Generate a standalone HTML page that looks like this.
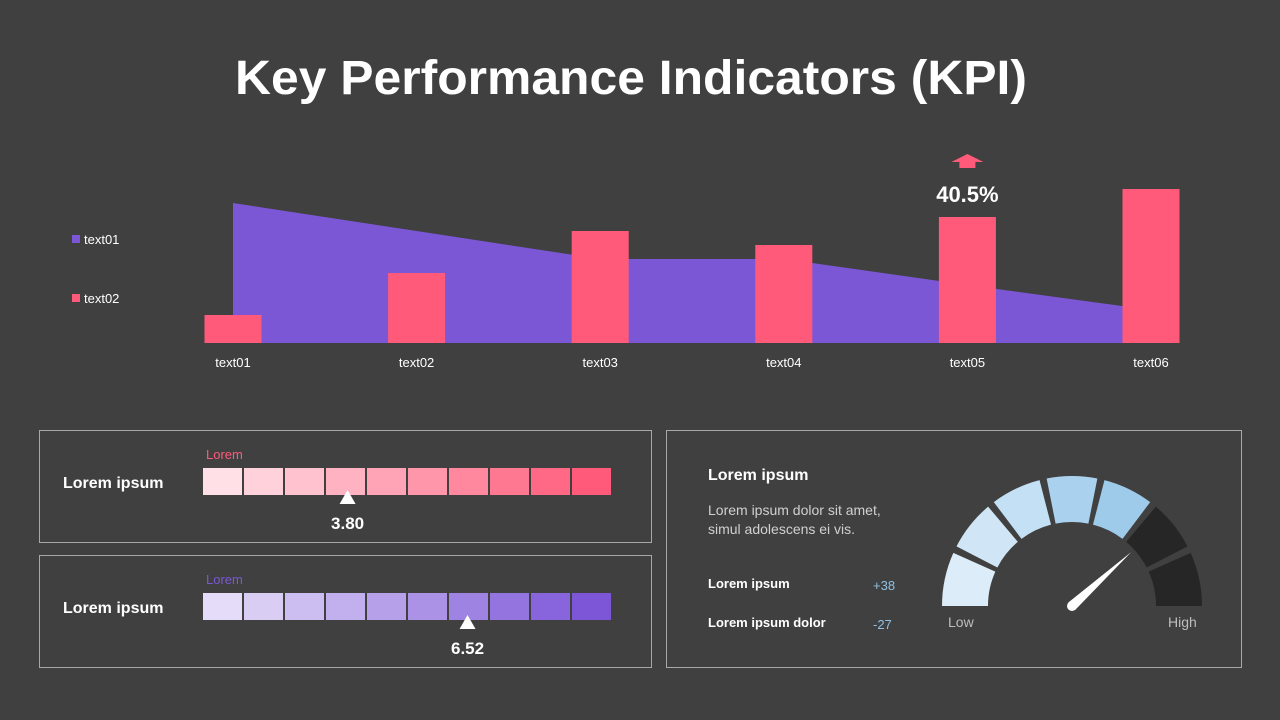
<!DOCTYPE html>
<html><head><meta charset="utf-8">
<style>
body{margin:0;width:1280px;height:720px;background:#404040;overflow:hidden;font-family:"Liberation Sans",sans-serif;}
svg{position:absolute;left:0;top:0}
</style></head>
<body>
<svg width="1280" height="720" id="s">
<text x="631" y="94" text-anchor="middle" font-size="48" font-weight="bold" fill="#fff" textLength="792" lengthAdjust="spacingAndGlyphs">Key Performance Indicators (KPI)</text>
<g id="chart"></g>
<g>
<rect x="72" y="235" width="8" height="8" fill="#7b57d6"/>
<text x="84" y="244" font-size="13" fill="#fff">text01</text>
<rect x="72" y="294" width="8" height="8" fill="#ff5a7a"/>
<text x="84" y="303" font-size="13" fill="#fff">text02</text>
</g>
<rect x="39.5" y="430.5" width="612" height="112" fill="none" stroke="#a8a8a8"/>
<rect x="39.5" y="555.5" width="612" height="112" fill="none" stroke="#a8a8a8"/>
<rect x="666.5" y="430.5" width="575" height="237" fill="none" stroke="#a8a8a8"/>
<text x="63" y="488" font-size="16" font-weight="bold" fill="#fff">Lorem ipsum</text>
<text x="206" y="459" font-size="13" fill="#ff5a7a">Lorem</text>
<text x="63" y="613" font-size="16" font-weight="bold" fill="#fff">Lorem ipsum</text>
<text x="206" y="584" font-size="13" fill="#7b57d6">Lorem</text>
<g id="scales"></g>
<text x="708" y="480" font-size="16" font-weight="bold" fill="#fff">Lorem ipsum</text>
<text x="708" y="515" font-size="14" fill="#d0d0d0">Lorem ipsum dolor sit amet,</text>
<text x="708" y="534" font-size="14" fill="#d0d0d0">simul adolescens ei vis.</text>
<text x="708" y="588" font-size="13" font-weight="bold" fill="#fff">Lorem ipsum</text>
<text x="873" y="590" font-size="13" fill="#8fc0e4">+38</text>
<text x="708" y="627" font-size="13" font-weight="bold" fill="#fff">Lorem ipsum dolor</text>
<text x="873" y="629" font-size="13" fill="#8fc0e4">-27</text>
<g id="gauge"></g>
<text x="948" y="627" font-size="14" fill="#bdbdbd">Low</text>
<text x="1168" y="627" font-size="14" fill="#bdbdbd">High</text>
</svg>
<script>
const categories=["text01","text02","text03","text04","text05","text06"];
const areaValues=[140,112,84,84,58,33];
const barValues=[28,70,112,98,126,154];
const highlightIndex=4;
const highlightLabel="40.5%";
const scaleValues=[3.80,6.52];
const gaugeValue=0.765;

const NS="http://www.w3.org/2000/svg";
function mk(tag,attrs,parent){const e=document.createElementNS(NS,tag);for(const k in attrs)e.setAttribute(k,attrs[k]);parent.appendChild(e);return e;}
const chart=document.getElementById('chart');
const x0=233,step=183.6,base=343;
const xs=i=>x0+i*step;
const ys=v=>base-v*1.0;
let d=`M${xs(0)},${base}`;
areaValues.forEach((v,i)=>{d+=` L${xs(i)},${ys(v)}`;});
d+=` L${xs(areaValues.length-1)},${base}Z`;
const area=mk('path',{d:d,fill:'#7b57d6'},chart);


barValues.forEach((v,i)=>{
 const r=mk('rect',{x:xs(i)-28.5,y:ys(v),width:57,height:base-ys(v),fill:'#ff5a7a'},chart);
 
 
 const t=mk('text',{x:xs(i),y:367,'text-anchor':'middle','font-size':13,fill:'#fff'},chart);
 t.textContent=categories[i];
 
 
});
{const hx=xs(highlightIndex),hy=ys(barValues[highlightIndex]);
 const t=mk('text',{x:hx,y:hy-15,'text-anchor':'middle','font-size':22,'font-weight':'bold',fill:'#fff'},chart);
 t.textContent=highlightLabel;
 
 
 const a=mk('path',{d:`M${hx-16},${hy-55} L${hx},${hy-63} L${hx+16},${hy-55} L${hx+8},${hy-55} L${hx+8},${hy-49} L${hx-8},${hy-49} L${hx-8},${hy-55}Z`,fill:'#ff5a7a'},chart);
 
 
}
const sc=document.getElementById('scales');
function lerp(a,b,t){return a.map((v,i)=>Math.round(v+(b[i]-v)*t));}
const scaleCols=[[[255,224,230],[255,90,122]],[[228,220,248],[125,86,216]]];
const scaleY=[468,593];
scaleValues.forEach((val,s)=>{
 for(let i=0;i<10;i++){
  const c=lerp(scaleCols[s][0],scaleCols[s][1],i/9);
  const r=mk('rect',{x:203+i*41,y:scaleY[s],width:39,height:27,fill:`rgb(${c})`},sc);
  
  
 }
 const mx=180+val*44.1;
 const tri=mk('path',{d:`M${mx-8},${scaleY[s]+36} L${mx},${scaleY[s]+22} L${mx+8},${scaleY[s]+36}Z`,fill:'#fff'},sc);
 
 
 const t=mk('text',{x:mx,y:scaleY[s]+61,'text-anchor':'middle','font-size':17,'font-weight':'bold',fill:'#fff'},sc);
 t.textContent=val.toFixed(2);
 
 
});
const g=document.getElementById('gauge');
const cx=1072,cy=606,Ro=130,Ri=84;
const segCols=[[220,236,248],[208,230,246],[196,224,244],[170,210,238],[158,203,234],[38,38,38],[38,38,38]];
function pt(r,a){return [cx-r*Math.cos(a),cy-r*Math.sin(a)];}
for(let i=0;i<7;i++){
 const gap=0.028;
 const a1=i*Math.PI/7+(i?gap:0),a2=(i+1)*Math.PI/7-(i<6?gap:0);
 const p1=pt(Ro,a1),p2=pt(Ro,a2),p3=pt(Ri,a2),p4=pt(Ri,a1);
 const seg=mk('path',{d:`M${p1} A${Ro},${Ro} 0 0 1 ${p2} L${p3} A${Ri},${Ri} 0 0 0 ${p4}Z`,fill:`rgb(${segCols[i]})`},g);
 
 
}
{const a=gaugeValue*Math.PI;
 const tip=pt(Ri-4,a);
 const dx=-Math.cos(a),dy=-Math.sin(a);
 const px=-dy,py=dx;
 const w=5;
 const n=mk('path',{d:`M${tip} L${cx+w*px},${cy+w*py} L${cx-w*px},${cy-w*py}Z`,fill:'#fff'},g);
 
 
 const c=mk('circle',{cx:cx,cy:cy,r:w,fill:'#fff'},g);
 
 
}
</script>
</body></html>
